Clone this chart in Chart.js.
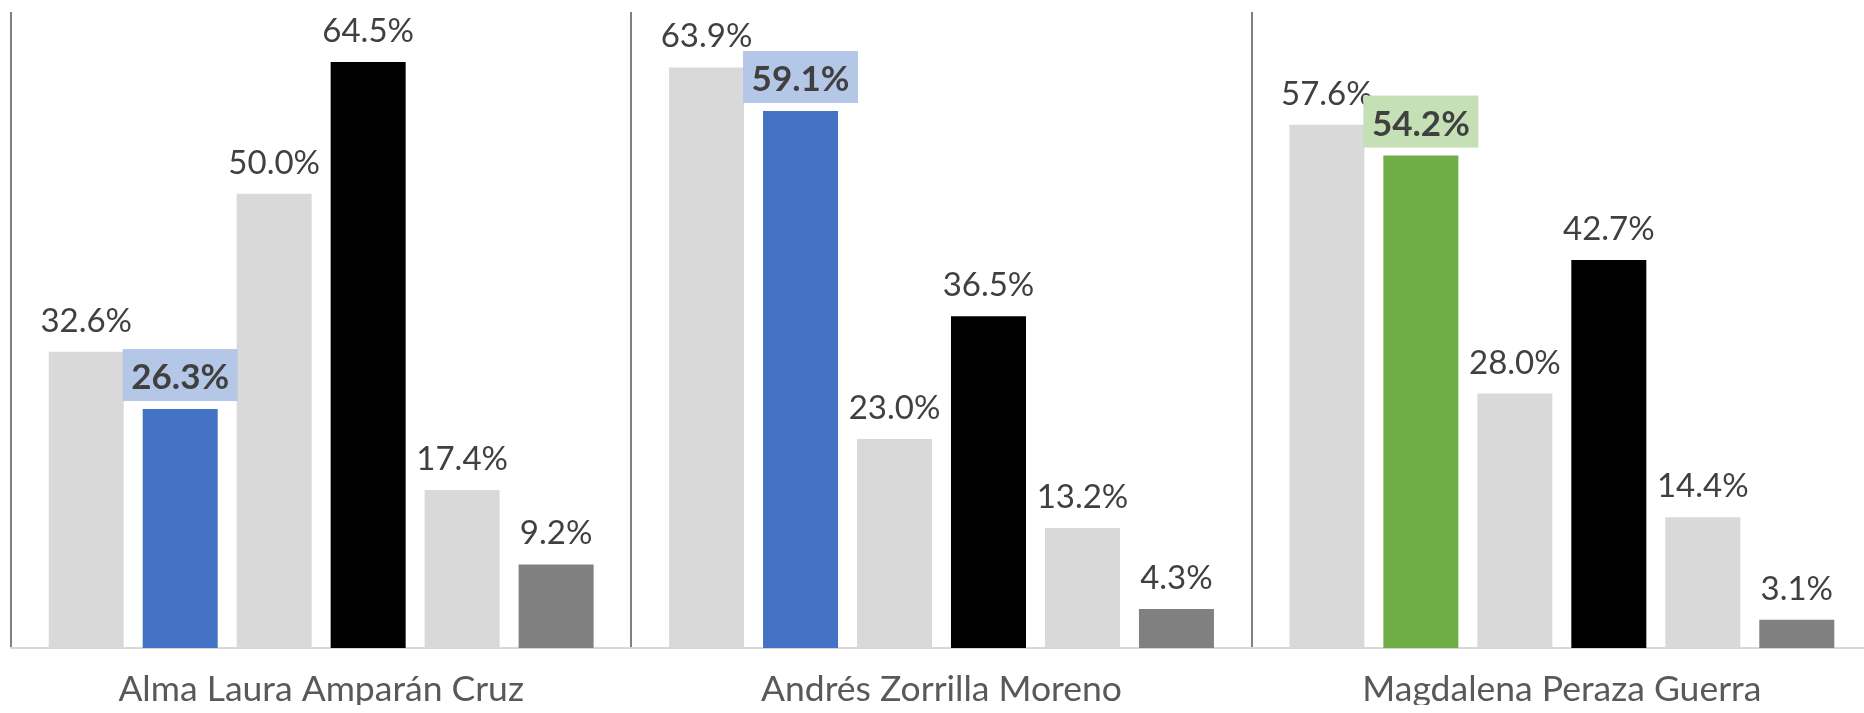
<!DOCTYPE html>
<html>
<head>
<meta charset="utf-8">
<script src="https://cdn.jsdelivr.net/npm/chart.js@4"></script>
<style>
  html, body { margin: 0; padding: 0; background: #ffffff; overflow: hidden; }
  #wrap { width: 1880px; height: 713px; }
</style>
</head>
<body>
<div id="wrap"><canvas id="c" width="1880" height="713"></canvas></div>
<script>
// ---- Data ----
const categories = ["Alma Laura Amparán Cruz", "Andrés Zorrilla Moreno", "Magdalena Peraza Guerra"];
const series1 = [32.6, 63.9, 57.6];
const series2 = [26.3, 59.1, 54.2];
const series3 = [50.0, 23.0, 28.0];
const series4 = [64.5, 36.5, 42.7];
const series5 = [17.4, 13.2, 14.4];
const series6 = [9.2, 4.3, 3.1];
const seriesNames = ["Serie 1", "Serie 2", "Serie 3", "Serie 4", "Serie 5", "Serie 6"];

// ---- Styles ----
const LIGHT = '#d9d9d9';
const seriesColors = [
  [LIGHT, LIGHT, LIGHT],
  ['#4472c4', '#4472c4', '#70ad47'],
  [LIGHT, LIGHT, LIGHT],
  ['#000000', '#000000', '#000000'],
  [LIGHT, LIGHT, LIGHT],
  ['#808080', '#808080', '#808080']
];
const highlightBoxColors = ['#b4c7e7', '#b4c7e7', '#c5e0b4'];
const highlightSeries = 1;

const allSeries = [series1, series2, series3, series4, series5, series6];

const labelPlugin = {
  id: 'barLabels',
  afterDatasetsDraw(chart) {
    const ctx = chart.ctx;
    ctx.save();
    chart.data.datasets.forEach((ds, i) => {
      const meta = chart.getDatasetMeta(i);
      meta.data.forEach((bar, j) => {
        const v = ds.data[j];
        const txt = v.toFixed(1) + '%';
        const x = bar.x, y = bar.y;
        ctx.textAlign = 'center';
        ctx.textBaseline = 'alphabetic';
        if (i === highlightSeries) {
          const bw = 115, bh = 52;
          ctx.fillStyle = highlightBoxColors[j];
          ctx.fillRect(x - bw / 2, y - 8 - bh, bw, bh);
          ctx.fillStyle = '#404040';
          ctx.font = 'bold 35px Lato';
          ctx.fillText(txt, x, y - 20);
        } else {
          ctx.fillStyle = '#404040';
          ctx.font = '33px Lato';
          ctx.fillText(txt, x, y - 20);
        }
      });
    });
    ctx.restore();
  }
};

new Chart(document.getElementById('c'), {
  type: 'bar',
  data: {
    labels: categories,
    datasets: allSeries.map((s, i) => ({
      label: seriesNames[i],
      data: s,
      backgroundColor: seriesColors[i],
      borderWidth: 0,
      categoryPercentage: 0.909,
      barPercentage: 0.798
    }))
  },
  options: {
    responsive: false,
    devicePixelRatio: 1,
    animation: false,
    layout: { padding: { left: 11, right: 8, top: 12, bottom: 8 } },
    plugins: {
      legend: { display: false },
      tooltip: { enabled: false }
    },
    scales: {
      y: {
        display: false,
        min: 0,
        max: 70
      },
      x: {
        afterFit(scale) { scale.height = 57; },
        grid: {
          display: true,
          offset: true,
          color: '#808080',
          lineWidth: 2,
          drawTicks: false
        },
        border: { display: true, color: '#d9d9d9', width: 2 },
        ticks: {
          color: '#595959',
          font: { family: 'Lato', size: 35.5 },
          padding: 20,
          maxRotation: 0,
          autoSkip: false
        }
      }
    }
  },
  plugins: [labelPlugin]
});
</script>
</body>
</html>
